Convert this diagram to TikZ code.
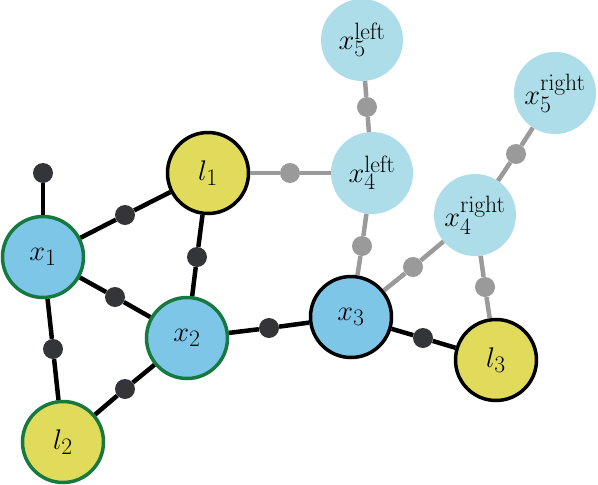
\documentclass[tikz,border=0pt]{standalone}
\usepackage{graphicx}
\definecolor{xblue}{HTML}{7EC6E8}
\definecolor{lblue}{HTML}{ADDDE8}
\definecolor{lyel}{HTML}{E0DB5A}
\definecolor{bgreen}{HTML}{167A40}
\definecolor{ddot}{HTML}{333538}
\definecolor{gdot}{HTML}{9A9A9A}
\newcommand{\lbl}[1]{\scalebox{1.14}{#1}}
\begin{document}
\begin{tikzpicture}[x=1pt,y=-1pt,
  base/.style={circle, inner sep=0pt, font=\Huge},
  varg/.style={base, minimum size=81pt, fill=xblue, draw=bgreen, line width=3.5pt},
  varb/.style={base, minimum size=81pt, fill=xblue, draw=black, line width=3.5pt},
  lmg/.style={base, minimum size=81pt, fill=lyel, draw=bgreen, line width=3.5pt},
  lmb/.style={base, minimum size=81pt, fill=lyel, draw=black, line width=3.5pt},
  fut/.style={base, minimum size=82pt, fill=lblue},
  fac/.style={circle, inner sep=0pt, minimum size=20pt, fill=ddot},
  gfac/.style={circle, inner sep=0pt, minimum size=20pt, fill=gdot},
  bedge/.style={line width=4.5pt, black},
  gedge/.style={line width=4.5pt, gdot}]
\useasboundingbox (0,0) rectangle (598,485);
% variable nodes
\node[varg] (x1) at (43,257) {\lbl{$x_1$}};
\node[varg] (x2) at (187,338) {\lbl{$x_2$}};
\node[varb] (x3) at (351,317) {\lbl{$x_3$}};
\node[lmb] (l1) at (208,173) {\lbl{$l_1$}};
\node[lmg] (l2) at (63,442) {\lbl{$l_2$}};
\node[lmb] (l3) at (496,360) {\lbl{$l_3$}};
\node[fut] (x4l) at (372,173) {\lbl{$x_4^{\mathrm{left}}$}};
\node[fut] (x5l) at (362,40) {\lbl{$x_5^{\mathrm{left}}$}};
\node[fut] (x4r) at (475,215) {\lbl{$x_4^{\mathrm{right}}$}};
\node[fut] (x5r) at (555,93) {\lbl{$x_5^{\mathrm{right}}$}};
% factor nodes
\node[fac] (f0) at (43,173) {};
\node[fac] (f1) at (125,215) {};
\node[fac] (f2) at (197,257) {};
\node[fac] (f3) at (115,297) {};
\node[fac] (f4) at (53,349) {};
\node[fac] (f5) at (125,389) {};
\node[fac] (f6) at (269,328) {};
\node[fac] (f7) at (423,338) {};
\node[gfac] (g1) at (290,173) {};
\node[gfac] (g2) at (367,107) {};
\node[gfac] (g3) at (362,246) {};
\node[gfac] (g4) at (413,267) {};
\node[gfac] (g5) at (516,154) {};
\node[gfac] (g6) at (485,287) {};
% edges
\draw[bedge] (x1) -- (f0);
\draw[bedge] (x1) -- (f1) -- (l1);
\draw[bedge] (l1) -- (f2) -- (x2);
\draw[bedge] (x1) -- (f3) -- (x2);
\draw[bedge] (x1) -- (f4) -- (l2);
\draw[bedge] (x2) -- (f5) -- (l2);
\draw[bedge] (x2) -- (f6) -- (x3);
\draw[bedge] (x3) -- (f7) -- (l3);
\draw[gedge] (l1) -- (g1) -- (x4l);
\draw[gedge] (x4l) -- (g2) -- (x5l);
\draw[gedge] (x3) -- (g3) -- (x4l);
\draw[gedge] (x3) -- (g4) -- (x4r);
\draw[gedge] (x4r) -- (g5) -- (x5r);
\draw[gedge] (x4r) -- (g6) -- (l3);
\end{tikzpicture}
\end{document}
